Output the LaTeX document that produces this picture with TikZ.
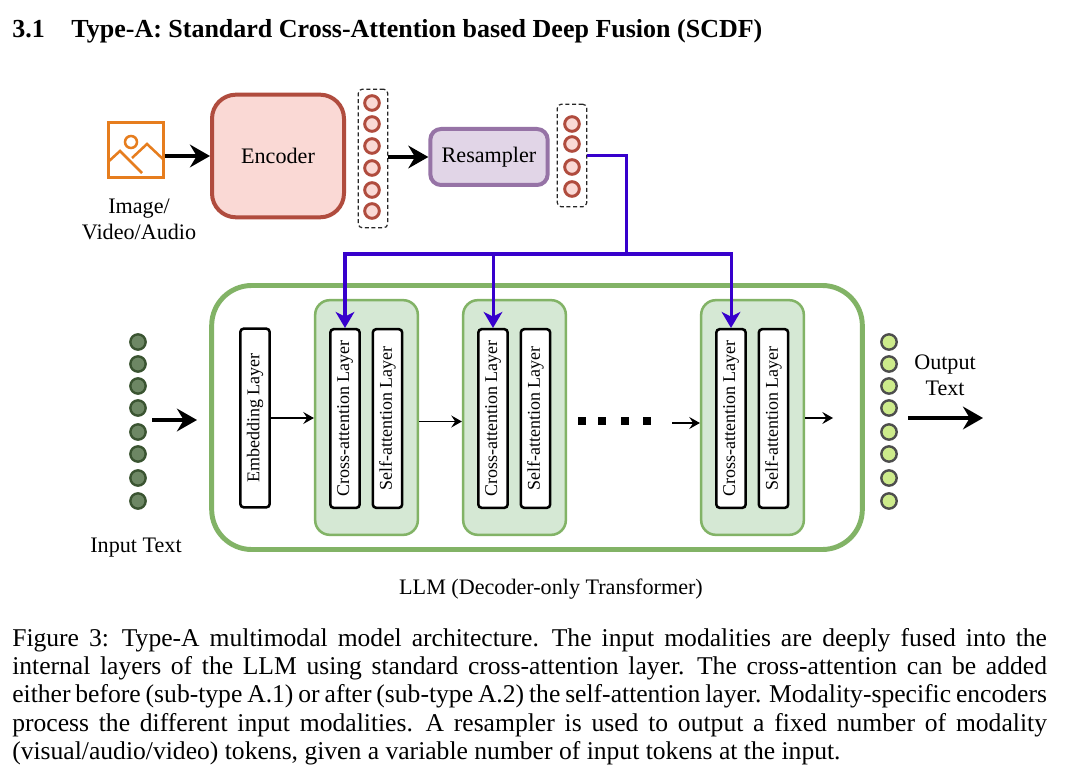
\documentclass[tikz,border=0pt]{standalone}
\usepackage{fontspec}
\setmainfont{Liberation Serif}
\usepackage{tikz}
\usetikzlibrary{arrows.meta,positioning,calc}
\definecolor{enccol}{RGB}{176,76,62}
\definecolor{encfill}{RGB}{250,217,213}
\definecolor{rescol}{RGB}{150,115,166}
\definecolor{resfill}{RGB}{225,213,231}
\definecolor{llmcol}{RGB}{130,179,102}
\definecolor{llmfill}{RGB}{213,232,212}
\definecolor{buscol}{RGB}{55,0,204}
\definecolor{iconcol}{RGB}{230,125,30}
\definecolor{indot}{RGB}{109,135,100}
\definecolor{indraw}{RGB}{58,84,49}
\definecolor{outdot}{RGB}{205,235,139}
\definecolor{outdraw}{RGB}{77,77,77}
\newcommand{\laytxt}[1]{\raisebox{-1pt}{#1}}
\tikzset{
  lab/.style={font=\fontsize{16.6}{19.5}\selectfont, inner sep=0pt, align=center},
  enc/.style={draw=enccol, fill=encfill, line width=3pt, rounded corners=18pt, minimum width=99pt, minimum height=92pt, inner sep=0pt, outer sep=1.5pt, font=\fontsize{16.6}{20}\selectfont},
  res/.style={draw=rescol, fill=resfill, line width=3pt, rounded corners=8pt, minimum width=88pt, minimum height=42pt, inner sep=0pt, outer sep=1.5pt, font=\fontsize{16.6}{20}\selectfont},
  tok/.style={circle, draw=enccol, fill=encfill, line width=2.2pt, minimum size=11pt, inner sep=0pt},
  tokin/.style={circle, draw=indraw, fill=indot, line width=1.8pt, minimum size=11.5pt, inner sep=0pt},
  tokout/.style={circle, draw=outdraw, fill=outdot, line width=1.8pt, minimum size=11.5pt, inner sep=0pt},
  tokbox/.style={draw=black!85, densely dashed, line width=.9pt, rounded corners=3pt, minimum width=22pt, inner sep=0pt},
  group/.style={draw=llmcol, fill=llmfill, line width=1.9pt, rounded corners=11pt, minimum width=77pt, minimum height=176pt, inner sep=0pt},
  layer/.style={draw=black, fill=white, line width=1.9pt, rounded corners=2.5pt, rotate=90, minimum width=134pt, minimum height=22pt, inner sep=0pt, outer sep=.9pt, font=\fontsize{13.5}{16}\selectfont},
  big/.style={-{Stealth[length=15pt,width=17pt,inset=5pt]}, line width=3pt},
  small/.style={-{Stealth[length=8pt,width=9pt,inset=3pt]}, line width=.9pt},
  bus/.style={draw=buscol, line width=2.26pt},
  busarrow/.style={bus, -{Stealth[length=12pt,width=14pt,inset=3.5pt]}},
}
\begin{document}
\begin{tikzpicture}[x=.75pt,y=-.75pt]
  \useasboundingbox (0,0) rectangle (1080,780);
  \fill[white] (0,0) rectangle (1080,780);
  \node[anchor=west, inner sep=0pt, font=\fontsize{19.5}{23}\selectfont\bfseries] (title) at (12,31) {3.1\hspace{20pt}Type-A: Standard Cross-Attention based Deep Fusion (SCDF)};

  % image icon
  \node[draw=iconcol, line width=1.9pt, minimum size=41pt, inner sep=0pt, outer sep=1pt] (icon) at (136,150) {};
  \draw[iconcol, line width=1.9pt] (131,142) circle (6);
  \draw[iconcol, line width=1.9pt] (108,162) -- (120,151) -- (142,173);
  \draw[iconcol, line width=1.9pt] (132,158) -- (147,144) -- (164,160);
  \node[lab] (imglab) at (139,219) {Image/\\Video/Audio};

  \node[enc] (encoder) at (278,156) {Encoder};
  \node[tokbox, minimum height=104pt] (encbox) at (373,158.5) {};
  \foreach \i/\y in {1/103,2/124,3/146,4/168,5/190,6/211} { \node[tok] (e\i) at (372,\y) {}; }
  \node[res] (resampler) at (489,157) {Resampler};
  \node[tokbox, minimum height=77pt] (resbox) at (572,155.5) {};
  \foreach \i/\y in {1/124,2/144,3/167,4/189} { \node[tok] (r\i) at (572,\y) {}; }

  \draw[big] (icon.east |- encoder) -- (encoder);
  \draw[big] (encbox.east |- resampler) -- (resampler);

  % llm
  \node[draw=llmcol, line width=3.7pt, rounded corners=30pt, minimum width=488pt, minimum height=198pt, inner sep=0pt] (llm) at (537,417.5) {};
  \node[lab] (llmlab) at (551,589) {LLM (Decoder-only Transformer)};
  \node[layer] (embed) at (255,418) {\laytxt{Embedding Layer}};
  \foreach \g/\x in {1/366.5,2/514.5,3/752.5} {
    \node[group] (grp\g) at (\x,417.5) {};
    \node[layer] (cross\g) at (\x-21.5,418.5) {\laytxt{Cross-attention Layer}};
    \node[layer] (self\g) at (\x+21,418.5) {\laytxt{Self-attention Layer}};
  }
  \coordinate (busin) at (626,254);
  \coordinate (dotsend) at (672,423);
  \coordinate (outend) at (833,418);
  \draw[bus] (resbox.east) -| (busin);
  \draw[bus, line cap=rect] (cross1.east |- busin) -- (cross3.east |- busin);
  \foreach \g in {1,2,3} { \draw[busarrow] (cross\g.east |- busin) -- (cross\g.east); }

  \draw[small] (embed.south) -- (grp1.west |- embed.south);
  \draw[small] ([yshift=-3pt]grp1.east) -- ([yshift=-3pt]grp2.west);
  \draw[small] (dotsend) -- (grp3.west |- dotsend);
  \draw[small] (grp3.east |- outend) -- (outend);
  \foreach \x [count=\i] in {582,602,625,647} { \node[fill=black, minimum size=5.5pt, inner sep=0pt] (dot\i) at (\x,421) {}; }

  % input and output
  \foreach \i/\y in {1/342,2/364,3/386,4/408,5/432,6/454,7/478,8/501} {
    \node[tokin] (in\i) at (138,\y) {};
    \node[tokout] (out\i) at (889,\y) {};
  }
  \node[lab] (inlab) at (136,548) {Input Text};
  \node[lab] (outlab) at (945,375) {Output\\Text};
  \coordinate (inA) at (152,420);
  \coordinate (inB) at (197,420);
  \coordinate (outA) at (908,418);
  \coordinate (outB) at (983,418);
  \draw[big] (inA) -- (inB);
  \draw[big] (outA) -- (outB);

  \node[anchor=north west, inner sep=0pt, text width=776pt, align=justify, font=\fontsize{19.2}{21.2}\selectfont] (caption) at (12,628) {\hyphenpenalty=10000 \spaceskip=.25em plus .12em minus .12em \xspaceskip=.36em plus .12em minus .12em \relax Figure 3: Type-A multimodal model architecture. The input modalities are deeply fused into the\linebreak internal layers of the LLM using standard cross-attention layer. The cross-attention can be added\linebreak either before (sub-type A.1) or after (sub-type A.2) the self-attention layer. Modality-specific encoders\linebreak process the different input modalities. A resampler is used to output a fixed number of modality\linebreak (visual/audio/video) tokens, given a variable number of input tokens at the input.};
\end{tikzpicture}
\end{document}
